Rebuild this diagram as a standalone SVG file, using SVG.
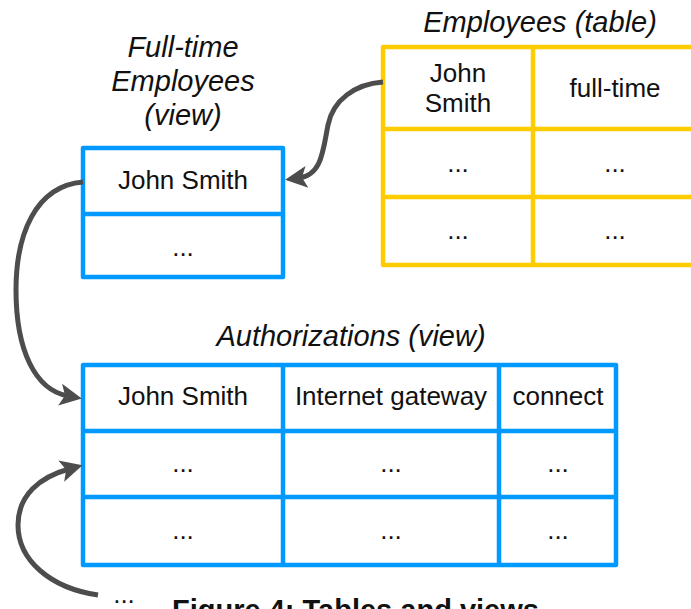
<svg xmlns="http://www.w3.org/2000/svg" width="691" height="609" viewBox="0 0 691 609">
<style>
.bg{fill:#ffffff}
.blue{fill:none;stroke:#0099ff;stroke-width:4.5;stroke-linejoin:round}
.yel{fill:none;stroke:#ffcc00;stroke-width:4.5;stroke-linejoin:round}
.t{font-family:"Liberation Sans",Arial,sans-serif;font-size:26px;fill:#111;text-anchor:middle}
.ti{font-family:"Liberation Sans",Arial,sans-serif;font-size:29px;font-style:italic;fill:#111;text-anchor:middle}
.cap{font-family:"Liberation Sans",Arial,sans-serif;font-size:29px;font-weight:bold;fill:#111}
.conn{fill:none;stroke:#4d4d4d;stroke-width:5}
</style>
<defs>
<marker id="ah" viewBox="-10 -12 26 24" refX="0" refY="0" markerWidth="26" markerHeight="24" markerUnits="userSpaceOnUse" orient="auto">
<path d="M14,0 L-8,-11 L-3,0 L-8,11 Z" fill="#4d4d4d"/>
</marker>
</defs>
<rect class="bg" x="0" y="0" width="691" height="609"/>

<g id="employees-table">
<text class="ti" x="540" y="32">Employees (table)</text>
<rect class="yel" x="383" y="47" width="316" height="218"/>
<line class="yel" x1="533" y1="47" x2="533" y2="265"/>
<line class="yel" x1="383" y1="129" x2="699" y2="129"/>
<line class="yel" x1="383" y1="197" x2="699" y2="197"/>
<text class="t" x="458" y="82">John</text>
<text class="t" x="458" y="112">Smith</text>
<text class="t" x="615" y="97">full-time</text>
<text class="t" x="458" y="172">...</text>
<text class="t" x="615" y="172">...</text>
<text class="t" x="458" y="239">...</text>
<text class="t" x="615" y="239">...</text>
</g>

<g id="fulltime-view">
<text class="ti" x="183" y="57">Full-time</text>
<text class="ti" x="183" y="91">Employees</text>
<text class="ti" x="183" y="125">(view)</text>
<rect class="blue" x="83" y="148" width="200" height="129"/>
<line class="blue" x1="83" y1="214" x2="283" y2="214"/>
<text class="t" x="183" y="189">John Smith</text>
<text class="t" x="183" y="256">...</text>
</g>

<g id="authorizations-view">
<text class="ti" x="351" y="346">Authorizations (view)</text>
<rect class="blue" x="83" y="365" width="533" height="200"/>
<line class="blue" x1="283" y1="365" x2="283" y2="565"/>
<line class="blue" x1="499" y1="365" x2="499" y2="565"/>
<line class="blue" x1="83" y1="431" x2="616" y2="431"/>
<line class="blue" x1="83" y1="497" x2="616" y2="497"/>
<text class="t" x="183" y="405">John Smith</text>
<text class="t" x="391" y="405">Internet gateway</text>
<text class="t" x="558" y="405">connect</text>
<text class="t" x="183" y="472">...</text>
<text class="t" x="391" y="472">...</text>
<text class="t" x="558" y="472">...</text>
<text class="t" x="183" y="539">...</text>
<text class="t" x="391" y="539">...</text>
<text class="t" x="558" y="539">...</text>
</g>

<g id="others">
<text class="t" x="124" y="603">...</text>
</g>

<g id="caption">
<text class="cap" x="172" y="620">Figure 4: Tables and views</text>
</g>

<g id="connectors">
<path class="conn" d="M383,82 C355,84 333,100 328,125 C323,150 322,175 299,178" marker-end="url(#ah)"/>
<path class="conn" d="M83,182 C35,186 16,235 16,290 C16,350 35,390 68,396" marker-end="url(#ah)"/>
<path class="conn" d="M98,595 C50,588 18,560 18,525 C18,495 40,477 69,469" marker-end="url(#ah)"/>
</g>
</svg>
